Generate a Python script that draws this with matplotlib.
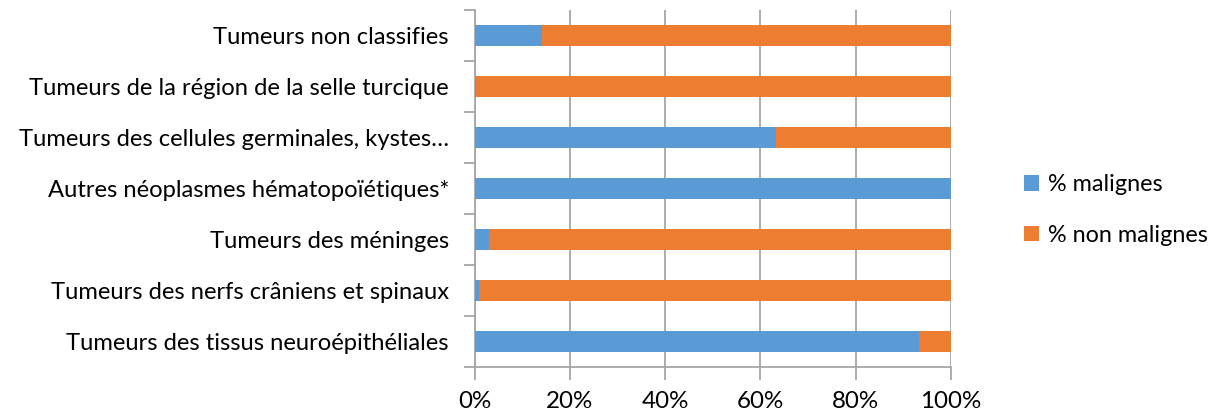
import numpy as np
import matplotlib.pyplot as plt
from matplotlib.ticker import FixedLocator, PercentFormatter

plt.rcParams['font.family'] = ['Lato', 'DejaVu Sans']

categories = ["Tumeurs des tissus neuroépithéliales",
              "Tumeurs des nerfs crâniens et spinaux",
              "Tumeurs des méninges",
              "Autres néoplasmes hématopoïétiques*",
              "Tumeurs des cellules germinales, kystes…",
              "Tumeurs de la région de la selle turcique",
              "Tumeurs non classifies"]
malignes = np.array([93.2, 0.9, 3.0, 100.0, 63.2, 0.4, 14.1])
non_malignes = 100 - malignes

blue = '#5B9BD5'
orange = '#ED7D31'
grey = '#A6A6A6'

fig = plt.figure(figsize=(12.2, 4.15), dpi=100)
ax = fig.add_axes([0.389, 0.1157, 0.3905, 0.8603])

y = np.arange(len(categories))
ax.barh(y, malignes, height=0.41, color=blue, label='% malignes', zorder=3)
ax.barh(y, non_malignes, left=malignes, height=0.41, color=orange,
        label='% non malignes', zorder=3)

ax.set_xlim(0, 100)
ax.set_ylim(-0.5, len(categories) - 0.5)
ax.set_xticks(np.arange(0, 101, 20))
ax.xaxis.set_major_formatter(PercentFormatter(decimals=0))
ax.set_yticks(y)
ax.set_yticklabels(categories)
ax.yaxis.set_minor_locator(FixedLocator(np.arange(-0.5, len(categories), 1)))
ax.tick_params(axis='y', which='major', length=0, pad=18.5, labelsize=17.1)
ax.tick_params(axis='y', which='minor', length=8, color=grey, width=1.3)
ax.tick_params(axis='x', length=9, color=grey, width=1.3, labelsize=17.4, pad=8)

ax.grid(axis='x', color=grey, linewidth=1.3, zorder=0)
for side in ['top', 'right']:
    ax.spines[side].set_visible(False)
for side in ['left', 'bottom']:
    ax.spines[side].set_color(grey)
    ax.spines[side].set_linewidth(1.3)

ax.legend(loc='center left', bbox_to_anchor=(0.822, 0.494),
          bbox_transform=fig.transFigure, frameon=False,
          fontsize=16.8, handlelength=0.65, handleheight=0.65, handletextpad=0.4,
          labelspacing=1.25)

fig.savefig('out.png', dpi=100)
